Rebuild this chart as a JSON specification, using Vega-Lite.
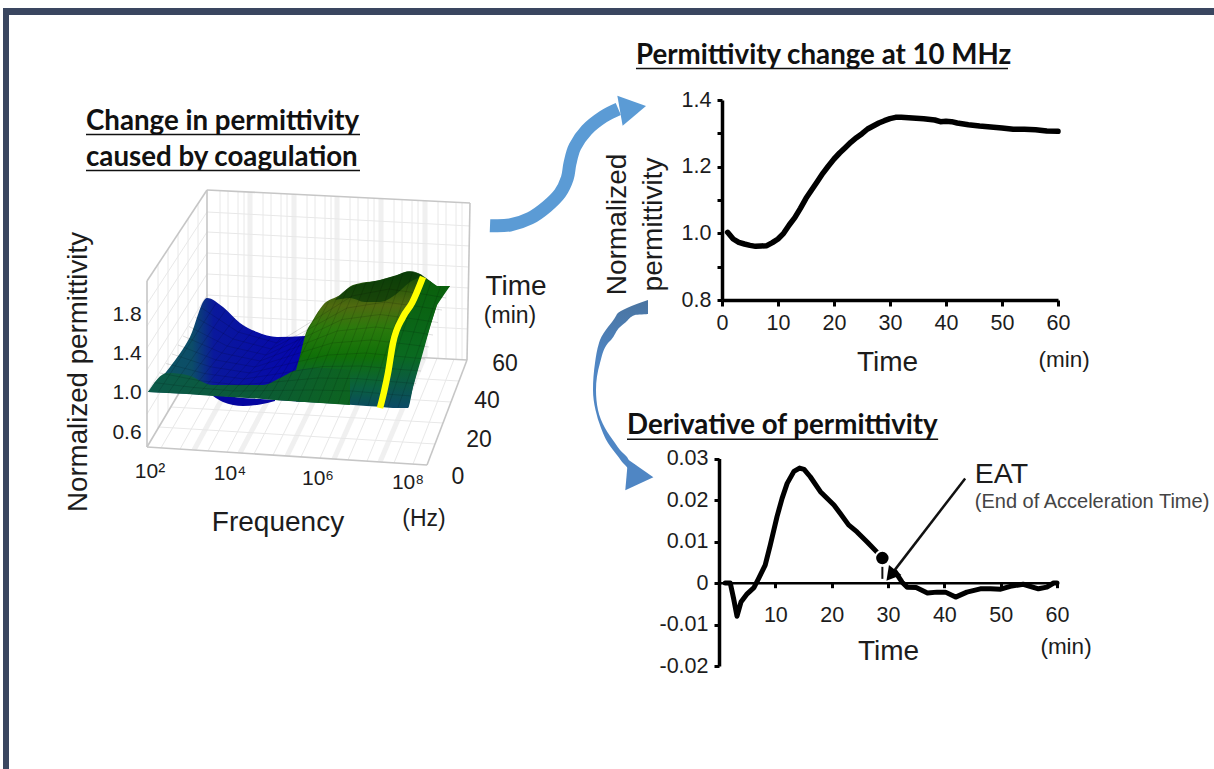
{
"$schema":"https://vega.github.io/schema/vega-lite/v6.json",
"width":1214,"height":769,"padding":0,"autosize":{"type":"none"},"background":"white",
"config":{"view":{"stroke":null},"font":"Liberation Sans","axis":{"grid":false,"labelFont":"Liberation Sans","titleFont":"Liberation Sans","titleFontWeight":"normal","labelColor":"#1c1c1c","titleColor":"#1c1c1c","domainColor":"black","tickColor":"black","labelOverlap":false,"labelBound":false,"labelFlush":false}},
"resolve":{"scale":{"x":"independent","y":"independent"},"axis":{"x":"independent","y":"independent"}},
"layer":[
{"encoding":{"x":{"field":"u","type":"quantitative","axis":null,"scale":{"domain":[0,400],"range":[100,500]}},"y":{"field":"v","type":"quantitative","axis":null,"scale":{"domain":[0,320],"range":[180,500]}}},
"layer":[
{"mark":{"type":"rect","color":"#3a4660"},"data":{"values":[{"u":-97,"u2":1114,"v":-172,"v2":-165},{"u":-97,"u2":-91,"v":-172,"v2":589}]},"encoding":{"x2":{"field":"u2"},"y2":{"field":"v2"}}},
{"mark":{"type":"rule","color":"#f0f0f0","strokeWidth":5},"data":{"values":[{"u":150,"v":12,"u2":150,"v2":168},{"u":194,"v":14,"u2":194,"v2":171},{"u":237,"v":16,"u2":237,"v2":173},{"u":281,"v":19,"u2":281,"v2":175},{"u":325,"v":21,"u2":325,"v2":178},{"u":94,"v":270,"u2":150,"v2":168},{"u":140,"v":273,"u2":194,"v2":171},{"u":187,"v":276,"u2":237,"v2":173},{"u":234,"v":279,"u2":280,"v2":175},{"u":280,"v":282,"u2":324,"v2":178}]},"encoding":{"x2":{"field":"u2"},"y2":{"field":"v2"}}},
{"mark":{"type":"rule","color":"#e8e8e8","strokeWidth":1},"data":{"values":[
{"u":107,"v":32,"u2":370,"v2":46},{"u":107,"v":52,"u2":370,"v2":66},{"u":107,"v":73,"u2":369,"v2":87},{"u":107,"v":94,"u2":369,"v2":108},{"u":107,"v":115,"u2":368,"v2":129},{"u":107,"v":135,"u2":368,"v2":149},
{"u":120,"v":10.6,"u2":120,"v2":166.7},{"u":128,"v":11,"u2":128,"v2":167},{"u":138,"v":11.5,"u2":138,"v2":167.7},{"u":144,"v":11.8,"u2":144,"v2":168},
{"u":163,"v":12.8,"u2":163,"v2":169},{"u":171,"v":13.2,"u2":171,"v2":169.4},{"u":181,"v":13.7,"u2":181,"v2":170},{"u":187,"v":14,"u2":187,"v2":170.3},
{"u":207,"v":15,"u2":207,"v2":171.4},{"u":215,"v":15.3,"u2":215,"v2":171.8},{"u":225,"v":15.8,"u2":225,"v2":172.3},{"u":231,"v":16.1,"u2":231,"v2":172.7},
{"u":250,"v":17,"u2":250,"v2":173.7},{"u":258,"v":17.4,"u2":258,"v2":174.1},{"u":268,"v":17.9,"u2":268,"v2":174.7},{"u":274,"v":18.2,"u2":274,"v2":175},
{"u":294,"v":19.2,"u2":294,"v2":176.1},{"u":302,"v":19.6,"u2":302,"v2":176.5},{"u":312,"v":20.1,"u2":312,"v2":177},{"u":318,"v":20.4,"u2":318,"v2":177.4},
{"u":338,"v":21.4,"u2":338,"v2":178.5},{"u":346,"v":21.8,"u2":346,"v2":178.9},{"u":356,"v":22.3,"u2":356,"v2":179.5},{"u":362,"v":22.6,"u2":362,"v2":179.7},
{"u":61,"v":267.9,"u2":120,"v2":166.7},{"u":80,"v":269.1,"u2":137,"v2":167.6},{"u":108,"v":270.9,"u2":163,"v2":169},{"u":127,"v":272.1,"u2":180,"v2":170},{"u":154,"v":273.9,"u2":207,"v2":171.4},{"u":173,"v":275.1,"u2":224,"v2":172.3},{"u":201,"v":276.9,"u2":250,"v2":173.7},{"u":220,"v":278.1,"u2":267,"v2":174.6},{"u":248,"v":279.9,"u2":293,"v2":176},{"u":267,"v":281.1,"u2":310,"v2":176.9},{"u":294,"v":282.9,"u2":337,"v2":178.4},{"u":313,"v":284.1,"u2":354,"v2":179.3},
{"u":59,"v":247,"u2":335,"v2":264},{"u":71,"v":227,"u2":343,"v2":243},{"u":83,"v":206,"u2":351,"v2":222},{"u":95,"v":186,"u2":359,"v2":201},
{"u":58,"v":84.3,"u2":58,"v2":248.5},{"u":68,"v":69,"u2":68,"v2":231.7},{"u":78,"v":54,"u2":78,"v2":214.8},{"u":88,"v":38.8,"u2":88,"v2":198},{"u":98,"v":23.6,"u2":98,"v2":181.2},
{"u":107,"v":32,"u2":47,"v2":124},{"u":107,"v":52,"u2":47,"v2":146},{"u":107,"v":73,"u2":47,"v2":168},{"u":107,"v":94,"u2":47,"v2":190},{"u":107,"v":115,"u2":47,"v2":213},{"u":107,"v":135,"u2":47,"v2":234}
]},"encoding":{"x2":{"field":"u2"},"y2":{"field":"v2"}}},
{"mark":{"type":"rule","color":"#c6c6c6","strokeWidth":1.6},"data":{"values":[{"u":107,"v":10,"u2":370,"v2":23},{"u":370,"v":23,"u2":367,"v2":180},{"u":107,"v":10,"u2":107,"v2":166},{"u":107,"v":10,"u2":47,"v2":101},{"u":47,"v":101,"u2":47,"v2":267},{"u":47,"v":267,"u2":327,"v2":285},{"u":327,"v":285,"u2":367,"v2":180},{"u":107,"v":166,"u2":367,"v2":180},{"u":47,"v":267,"u2":107,"v2":166}]},"encoding":{"x2":{"field":"u2"},"y2":{"field":"v2"}}},
{"mark":{"type":"area","color":"#0505a0","interpolate":"monotone"},"data":{"values":[{"u":113,"v":216,"v2":216},{"u":123,"v":216,"v2":222},{"u":143,"v":218,"v2":226},{"u":160,"v":219,"v2":224.5},{"u":175,"v":220,"v2":221}]},"encoding":{"y2":{"field":"v2"}}},
{"mark":{"type":"area","interpolate":"monotone","color":{"gradient":"linear","x1":0,"y1":0,"x2":1,"y2":0,"stops":[{"offset":0,"color":"#0c5560"},{"offset":0.28,"color":"#0c4d68"},{"offset":0.42,"color":"#0a189c"},{"offset":1,"color":"#0505ae"}]}},"data":{"values":[{"u":48,"v":212,"v2":212},{"u":70,"v":187,"v2":213},{"u":90,"v":157,"v2":214},{"u":107,"v":118,"v2":215},{"u":123,"v":127,"v2":216},{"u":140,"v":143,"v2":217},{"u":157,"v":152,"v2":218},{"u":177,"v":157,"v2":220},{"u":205,"v":156,"v2":222}]},"encoding":{"y2":{"field":"v2"}}},
{"mark":{"type":"area","interpolate":"monotone","color":{"gradient":"linear","x1":0,"y1":0,"x2":0,"y2":1,"stops":[{"offset":0,"color":"#0c4a08"},{"offset":0.12,"color":"#2d5a0a"},{"offset":0.25,"color":"#4f6a10"},{"offset":0.42,"color":"#2a7a0c"},{"offset":0.62,"color":"#107008"},{"offset":0.85,"color":"#0a6040"},{"offset":1,"color":"#0a4a60"}]}},"data":{"values":[{"u":196,"v":190,"v2":221.5},{"u":201,"v":172,"v2":222},{"u":205,"v":156,"v2":222},{"u":213,"v":140,"v2":222.5},{"u":223,"v":125,"v2":223},{"u":240,"v":115,"v2":224},{"u":253,"v":105,"v2":225},{"u":280,"v":100,"v2":226.7},{"u":297,"v":95,"v2":227.5},{"u":308,"v":91.5,"v2":228},{"u":313,"v":92,"v2":207},{"u":320,"v":94,"v2":180},{"u":330,"v":101,"v2":147},{"u":337,"v":106,"v2":125},{"u":350,"v":106,"v2":106}]},"encoding":{"y2":{"field":"v2"}}},
{"mark":{"type":"area","color":{"gradient":"linear","x1":0,"y1":0,"x2":0,"y2":1,"stops":[{"offset":0,"color":"#0a5f0a"},{"offset":0.6,"color":"#0a6a20"},{"offset":1,"color":"#0b4a66"}]}},"data":{"values":[{"u":280,"v":227,"v2":227},{"u":288,"v":193,"v2":227.5},{"u":293,"v":163,"v2":228},{"u":303,"v":137,"v2":228},{"u":308,"v":128,"v2":228},{"u":313,"v":120,"v2":207},{"u":322,"v":98,"v2":176},{"u":330,"v":101,"v2":147},{"u":337,"v":106,"v2":125},{"u":350,"v":106,"v2":106}]},"encoding":{"y2":{"field":"v2"}}},
{"mark":{"type":"area","color":"#0a3a08","opacity":0.75,"interpolate":"monotone"},"data":{"values":[{"u":235,"v":120,"v2":120},{"u":250,"v":107,"v2":118},{"u":265,"v":103,"v2":122},{"u":280,"v":100,"v2":122},{"u":295,"v":96,"v2":115},{"u":310,"v":91,"v2":102},{"u":322,"v":95,"v2":96}]},"encoding":{"y2":{"field":"v2"}}},
{"mark":{"type":"area","interpolate":"monotone","color":{"gradient":"linear","x1":0,"y1":0,"x2":1,"y2":0,"stops":[{"offset":0,"color":"#0b5a4a"},{"offset":0.5,"color":"#0b5a38"},{"offset":1,"color":"#0d6420"}]}},"data":{"values":[{"u":48,"v":212,"v2":212},{"u":67,"v":193,"v2":213},{"u":87,"v":195,"v2":214},{"u":113,"v":205,"v2":216},{"u":163,"v":205,"v2":219},{"u":180,"v":198,"v2":220.5},{"u":197,"v":190,"v2":221.5},{"u":220,"v":188,"v2":223},{"u":250,"v":190,"v2":225}]},"encoding":{"y2":{"field":"v2"}}},
{"mark":{"type":"rule","color":"#000000","opacity":0.17,"strokeWidth":0.8},"data":{"values":[
{"u":58,"v":212.6,"u2":116.3,"v2":123},{"u":68,"v":213.2,"u2":125.7,"v2":130},{"u":78,"v":213.8,"u2":135,"v2":138},{"u":88,"v":214.5,"u2":144.4,"v2":145},{"u":98,"v":215.1,"u2":153.7,"v2":150},{"u":108,"v":215.7,"u2":163,"v2":153.5},{"u":118,"v":216.3,"u2":172.4,"v2":156},{"u":128,"v":216.9,"u2":181.8,"v2":157},{"u":138,"v":217.5,"u2":191,"v2":156.5},{"u":148,"v":218.2,"u2":200.5,"v2":156},{"u":158,"v":218.8,"u2":209.8,"v2":146},{"u":168,"v":219.4,"u2":219,"v2":131},{"u":178,"v":220,"u2":228.5,"v2":122},{"u":188,"v":220.6,"u2":237.8,"v2":116},{"u":198,"v":221.2,"u2":247,"v2":110},{"u":208,"v":221.8,"u2":256.6,"v2":104},{"u":218,"v":222.5,"u2":266,"v2":102.5},{"u":228,"v":223.1,"u2":275,"v2":101},{"u":238,"v":223.7,"u2":284.6,"v2":99},{"u":248,"v":224.3,"u2":294,"v2":96},{"u":258,"v":224.9,"u2":303,"v2":93},{"u":268,"v":225.5,"u2":312.6,"v2":92},{"u":278,"v":226.1,"u2":322,"v2":95},{"u":288,"v":226.8,"u2":331,"v2":102},{"u":298,"v":227.4,"u2":340.7,"v2":106}
]},"encoding":{"x2":{"field":"u2"},"y2":{"field":"v2"}}},
{"mark":{"type":"line","color":"#000000","opacity":0.17,"strokeWidth":0.8},"data":{"values":[
{"r":1,"u":54,"v":202.6},{"r":1,"u":94,"v":207.5},{"r":1,"u":134,"v":211},{"r":1,"u":173,"v":210.5},{"r":1,"u":213,"v":210},{"r":1,"u":252,"v":211},{"r":1,"u":292,"v":214.5},{"r":1,"u":312,"v":216},
{"r":2,"u":60,"v":193},{"r":2,"u":99,"v":200.6},{"r":2,"u":139,"v":205},{"r":2,"u":178,"v":201.7},{"r":2,"u":218,"v":198},{"r":2,"u":257,"v":198.6},{"r":2,"u":297,"v":202},{"r":2,"u":316,"v":203.6},
{"r":3,"u":66,"v":183.5},{"r":3,"u":105,"v":193.6},{"r":3,"u":144,"v":199},{"r":3,"u":183,"v":193},{"r":3,"u":223,"v":186.5},{"r":3,"u":261,"v":186},{"r":3,"u":301,"v":189.5},{"r":3,"u":321,"v":191},
{"r":4,"u":72,"v":174},{"r":4,"u":110,"v":186.7},{"r":4,"u":150,"v":193},{"r":4,"u":188,"v":184},{"r":4,"u":228,"v":175},{"r":4,"u":266,"v":173},{"r":4,"u":305,"v":177},{"r":4,"u":325,"v":179},
{"r":5,"u":78,"v":165},{"r":5,"u":116,"v":180},{"r":5,"u":155,"v":187},{"r":5,"u":193,"v":175},{"r":5,"u":232,"v":163},{"r":5,"u":271,"v":160},{"r":5,"u":310,"v":164.5},{"r":5,"u":329,"v":167},
{"r":6,"u":83,"v":156},{"r":6,"u":122,"v":173},{"r":6,"u":160,"v":181},{"r":6,"u":199,"v":166},{"r":6,"u":237,"v":151},{"r":6,"u":276,"v":147},{"r":6,"u":314,"v":152},{"r":6,"u":333,"v":155},
{"r":7,"u":89,"v":146.5},{"r":7,"u":127,"v":166},{"r":7,"u":166,"v":175},{"r":7,"u":204,"v":157.5},{"r":7,"u":242,"v":139.5},{"r":7,"u":280,"v":134.5},{"r":7,"u":318,"v":139.5},{"r":7,"u":338,"v":142.5},
{"r":8,"u":95,"v":137},{"r":8,"u":133,"v":159},{"r":8,"u":171,"v":169},{"r":8,"u":209,"v":149},{"r":8,"u":247,"v":128},{"r":8,"u":285,"v":122},{"r":8,"u":322,"v":127},{"r":8,"u":342,"v":130},
{"r":9,"u":101,"v":127.5},{"r":9,"u":138,"v":152},{"r":9,"u":177,"v":163},{"r":9,"u":214,"v":140},{"r":9,"u":252,"v":116},{"r":9,"u":289,"v":109},{"r":9,"u":326,"v":114.5},{"r":9,"u":346,"v":118}
]},"encoding":{"detail":{"field":"r"}}},
{"mark":{"type":"line","color":"#ffff00","strokeWidth":6.5,"interpolate":"monotone"},"data":{"values":[{"u":280,"v":228},{"u":284,"v":212},{"u":288,"v":193},{"u":293,"v":163},{"u":303,"v":137},{"u":312,"v":123},{"u":323,"v":97}]}},
{"mark":{"type":"line","color":"#5b9bd5","strokeWidth":13,"interpolate":"cardinal"},"data":{"values":[{"u":390,"v":45.7},{"u":410,"v":45},{"u":430,"v":38.3},{"u":446.7,"v":26.7},{"u":460,"v":13.3},{"u":467.3,"v":-1.7},{"u":470,"v":-16.7},{"u":475,"v":-33.3},{"u":486.7,"v":-50},{"u":503.3,"v":-63.3},{"u":518.3,"v":-71}]}},
{"mark":{"type":"point","shape":"triangle-up","filled":true,"color":"#5b9bd5","opacity":1,"size":930,"angle":80},"data":{"values":[{"u":533,"v":-71.6}]}},
{"mark":{"type":"area","orient":"horizontal","interpolate":"monotone","color":{"gradient":"linear","x1":0,"y1":0,"x2":0,"y2":1,"stops":[{"offset":0,"color":"#4a74a0"},{"offset":0.35,"color":"#4f86c4"},{"offset":1,"color":"#4f86c4"}]}},"data":{"values":[{"v":120,"u":548,"u2":548},{"v":128,"u":527,"u2":548},{"v":134,"u":517,"u2":548},{"v":135,"u":516.5,"u2":535},{"v":142,"u":512,"u2":526},{"v":147,"u":508,"u2":520},{"v":160,"u":500,"u2":511},{"v":163,"u":499,"u2":508},{"v":183,"u":495,"u2":500},{"v":210,"u":493,"u2":496},{"v":230,"u":495.5,"u2":498},{"v":248,"u":501,"u2":505},{"v":263,"u":508,"u2":515},{"v":270,"u":513,"u2":520},{"v":277,"u":518.5,"u2":527},{"v":283,"u":523,"u2":531},{"v":285,"u":525,"u2":535},{"v":295,"u":533,"u2":536}]},"encoding":{"x2":{"field":"u2"}}},
{"mark":{"type":"point","shape":"triangle-up","filled":true,"color":"#4f86c4","opacity":1,"size":960,"angle":95},"data":{"values":[{"u":540,"v":296}]}},
{"mark":{"type":"text","font":"Liberation Sans","fontSize":21,"color":"#1c1c1c","align":"center","baseline":"middle"},"data":{"values":[{"s":"1.8","u":27,"v":135},{"s":"1.4","u":27,"v":174},{"s":"1.0","u":27,"v":213},{"s":"0.6","u":27,"v":253},{"s":"10²","u":50,"v":292},{"s":"10⁴","u":130,"v":294},{"s":"10⁶","u":218,"v":299},{"s":"10⁸","u":308,"v":303}]},"encoding":{"text":{"field":"s"}}},
{"mark":{"type":"text","font":"Liberation Sans","fontSize":23,"color":"#1c1c1c","align":"center","baseline":"middle"},"data":{"values":[{"s":"60","u":405,"v":184},{"s":"40","u":387,"v":221},{"s":"20","u":379,"v":260},{"s":"0","u":358,"v":297},{"s":"(Hz)","u":324,"v":339},{"s":"(min)","u":410,"v":136}]},"encoding":{"text":{"field":"s"}}},
{"mark":{"type":"text","font":"Liberation Sans","fontSize":28,"color":"#1c1c1c","align":"center","baseline":"middle"},"data":{"values":[{"s":"Frequency","u":178,"v":343},{"s":"Time","u":416,"v":107}]},"encoding":{"text":{"field":"s"}}},
{"mark":{"type":"text","font":"Liberation Sans","fontSize":27.7,"color":"#1c1c1c","align":"center","baseline":"middle","angle":270},"data":{"values":[{"s":"Normalized permittivity","u":-21,"v":192}]},"encoding":{"text":{"field":"s"}}},
{"mark":{"type":"text","font":"Lato","fontWeight":"bold","fontSize":27.7,"color":"#111111","align":"left","baseline":"alphabetic"},"data":{"values":[{"s":"Change in permittivity","u":-14,"v":-50},{"s":"caused by coagulation","u":-14,"v":-14}]},"encoding":{"text":{"field":"s"}}},
{"mark":{"type":"rule","color":"#111111","strokeWidth":1.6},"data":{"values":[{"u":-14,"u2":260,"v":-45.5},{"u":-14,"u2":260,"v":-9.5}]},"encoding":{"x2":{"field":"u2"}}}
]},
{"encoding":{
"x":{"field":"t","type":"quantitative","scale":{"domain":[0,60],"range":[722,1058]},"axis":{"orient":"bottom","offset":-469,"values":[0,10,20,30,40,50,60],"title":"Time","titleFontSize":28,"titlePadding":15,"titleX":887,"labelFontSize":21.5,"labelPadding":6,"tickSize":6,"tickWidth":3,"domainWidth":3.5}},
"y":{"field":"val","type":"quantitative","scale":{"domain":[0.8,1.4],"range":[300,100]},"axis":{"orient":"left","offset":-722,"values":[0.8,0.9,1.0,1.1,1.2,1.3,1.4],"labelExpr":"indexof(['0.8','1.0','1.2','1.4'],format(datum.value,'.1f'))>=0?format(datum.value,'.1f'):''","title":["Normalized","permittivity"],"titleFontSize":28,"titleLineHeight":36,"titlePadding":14,"titleY":224,"labelFontSize":21.5,"labelPadding":6,"tickSize":5,"tickWidth":3,"domainWidth":3.5}}},
"layer":[
{"mark":{"type":"line","color":"black","strokeWidth":5.5,"strokeCap":"round","strokeJoin":"round"},"data":{"values":[{"t":1,"val":1.003},{"t":2,"val":0.983},{"t":3,"val":0.973},{"t":4,"val":0.968},{"t":5,"val":0.964},{"t":6,"val":0.961},{"t":7,"val":0.962},{"t":8,"val":0.963},{"t":9,"val":0.972},{"t":10,"val":0.983},{"t":11,"val":1.0},{"t":12,"val":1.025},{"t":13,"val":1.047},{"t":14,"val":1.075},{"t":15,"val":1.105},{"t":16,"val":1.13},{"t":17,"val":1.155},{"t":18,"val":1.18},{"t":19,"val":1.202},{"t":20,"val":1.223},{"t":21,"val":1.241},{"t":22,"val":1.257},{"t":23,"val":1.273},{"t":24,"val":1.287},{"t":25,"val":1.299},{"t":26,"val":1.313},{"t":27,"val":1.322},{"t":28,"val":1.331},{"t":29,"val":1.338},{"t":30,"val":1.344},{"t":31,"val":1.348},{"t":32,"val":1.348},{"t":34,"val":1.346},{"t":36,"val":1.344},{"t":38,"val":1.34},{"t":39,"val":1.335},{"t":40,"val":1.336},{"t":41,"val":1.335},{"t":42,"val":1.331},{"t":44,"val":1.326},{"t":46,"val":1.322},{"t":48,"val":1.319},{"t":50,"val":1.316},{"t":52,"val":1.312},{"t":54,"val":1.312},{"t":56,"val":1.311},{"t":58,"val":1.307},{"t":60,"val":1.306}]}},
{"mark":{"type":"text","font":"Lato","fontWeight":"bold","fontSize":27.7,"color":"#111111","align":"left","baseline":"alphabetic"},"data":{"values":[{"s":"Permittivity change at 10 MHz","t":-15.36,"val":1.508}]},"encoding":{"text":{"field":"s"}}},
{"mark":{"type":"rule","color":"#111111","strokeWidth":1.6},"data":{"values":[{"t":-15.36,"t2":51.07,"val":1.4946}]},"encoding":{"x2":{"field":"t2"}}},
{"mark":{"type":"text","font":"Liberation Sans","fontSize":22.5,"color":"#1c1c1c","align":"center","baseline":"alphabetic"},"data":{"values":[{"s":"(min)","t":61.1,"val":0.599}]},"encoding":{"text":{"field":"s"}}}
]},
{"encoding":{
"x":{"field":"t","type":"quantitative","scale":{"domain":[0,60],"range":[719,1057]},"axis":{"orient":"bottom","offset":-186.3,"values":[10,20,30,40,50,60],"title":"Time","titleFontSize":28,"titlePadding":11,"labelFontSize":21.5,"labelPadding":17,"tickSize":5,"tickWidth":3,"domainWidth":2.5}},
"y":{"field":"val","type":"quantitative","scale":{"domain":[-0.02,0.03],"range":[666,458.5]},"axis":{"orient":"left","offset":-719,"values":[-0.02,-0.01,0,0.01,0.02,0.03],"labelExpr":"datum.value==0?'0':datum.value<0?'-'+format(-datum.value,'.2f'):format(datum.value,'.2f')","title":null,"labelFontSize":21.5,"labelPadding":6,"tickSize":5,"tickWidth":3,"domainWidth":3.5}}},
"layer":[
{"mark":{"type":"line","color":"black","strokeWidth":5,"strokeCap":"round","strokeJoin":"round"},"data":{"values":[
{"g":"a","t":1.1,"val":0},{"g":"a","t":2,"val":0},{"g":"a","t":2.6,"val":-0.0038},{"g":"a","t":3.2,"val":-0.008},{"g":"a","t":3.9,"val":-0.0046},{"g":"a","t":5,"val":-0.0026},{"g":"a","t":6.2,"val":-0.0011},{"g":"a","t":7,"val":0.001},{"g":"a","t":8.2,"val":0.0043},{"g":"a","t":9.1,"val":0.0091},{"g":"a","t":10.3,"val":0.016},{"g":"a","t":11.2,"val":0.0204},{"g":"a","t":12.1,"val":0.024},{"g":"a","t":13.3,"val":0.0269},{"g":"a","t":14.3,"val":0.0277},{"g":"a","t":15.1,"val":0.0274},{"g":"a","t":16.2,"val":0.0256},{"g":"a","t":18,"val":0.022},{"g":"a","t":20.4,"val":0.0188},{"g":"a","t":21.5,"val":0.0168},{"g":"a","t":23,"val":0.014},{"g":"a","t":24.5,"val":0.0123},{"g":"a","t":26.3,"val":0.0099},{"g":"a","t":28,"val":0.0075},
{"g":"b","t":31.3,"val":0.0027},{"g":"b","t":32.5,"val":0.0002},{"g":"b","t":33.4,"val":-0.001},{"g":"b","t":35,"val":-0.0011},{"g":"b","t":37,"val":-0.0024},{"g":"b","t":38.7,"val":-0.0022},{"g":"b","t":40.2,"val":-0.0022},{"g":"b","t":42,"val":-0.0034},{"g":"b","t":44,"val":-0.0022},{"g":"b","t":46.4,"val":-0.0014},{"g":"b","t":48.2,"val":-0.0014},{"g":"b","t":50,"val":-0.0015},{"g":"b","t":51.7,"val":-0.0008},{"g":"b","t":54,"val":-0.0003},{"g":"b","t":56.7,"val":-0.0014},{"g":"b","t":58.2,"val":-0.001},{"g":"b","t":59.4,"val":0},{"g":"b","t":60,"val":0}
]},"encoding":{"detail":{"field":"g"}}},
{"mark":{"type":"rule","color":"#111111","strokeWidth":2},"data":{"values":[{"t":29,"val":0.0039,"val2":0.001}]},"encoding":{"y2":{"field":"val2"}}},
{"mark":{"type":"point","shape":"circle","filled":true,"color":"black","opacity":1,"stroke":"white","strokeWidth":2,"strokeOpacity":1,"size":210},"data":{"values":[{"t":29,"val":0.006}]}},
{"mark":{"type":"line","color":"#111111","strokeWidth":2.5},"data":{"values":[{"t":30.7,"val":0.00226},{"t":43.7,"val":0.0252}]}},
{"mark":{"type":"point","shape":"triangle-up","filled":true,"color":"black","opacity":1,"size":256,"angle":219},"data":{"values":[{"t":30.5,"val":0.00185}]}},
{"mark":{"type":"text","font":"Lato","fontWeight":"bold","fontSize":27.7,"color":"#111111","align":"left","baseline":"alphabetic"},"data":{"values":[{"s":"Derivative of permittivity","t":-16.33,"val":0.03583}]},"encoding":{"text":{"field":"s"}}},
{"mark":{"type":"rule","color":"#111111","strokeWidth":1.6},"data":{"values":[{"t":-16.33,"t2":38.9,"val":0.03463}]},"encoding":{"x2":{"field":"t2"}}},
{"mark":{"type":"text","font":"Liberation Sans","fontSize":28.5,"color":"#1c1c1c","align":"left","baseline":"alphabetic"},"data":{"values":[{"s":"EAT","t":45.4,"val":0.024}]},"encoding":{"text":{"field":"s"}}},
{"mark":{"type":"text","font":"Liberation Sans","fontSize":20,"color":"#444444","align":"left","baseline":"alphabetic"},"data":{"values":[{"s":"(End of Acceleration Time)","t":45.4,"val":0.018}]},"encoding":{"text":{"field":"s"}}},
{"mark":{"type":"text","font":"Liberation Sans","fontSize":22.5,"color":"#1c1c1c","align":"center","baseline":"alphabetic"},"data":{"values":[{"s":"(min)","t":61.6,"val":-0.0172}]},"encoding":{"text":{"field":"s"}}}
]}
]}
